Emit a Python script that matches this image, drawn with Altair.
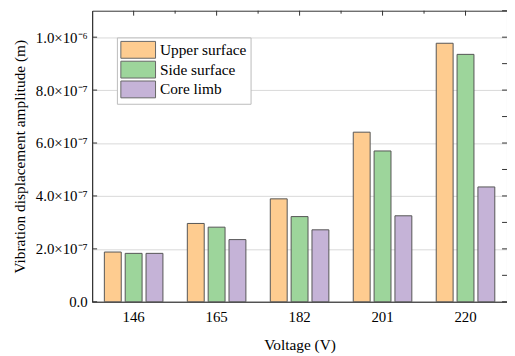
import altair as alt
import pandas as pd

voltages = ["146", "165", "182", "201", "220"]
series = ["Upper surface", "Side surface", "Core limb"]
upper = [1.88e-7, 2.96e-7, 3.89e-7, 6.41e-7, 9.77e-7]
side = [1.83e-7, 2.82e-7, 3.22e-7, 5.70e-7, 9.35e-7]
core = [1.83e-7, 2.35e-7, 2.72e-7, 3.25e-7, 4.34e-7]
colors = ["#FECC90", "#9DD59B", "#C5B3D7"]

y_tick_values = [0, 2e-7, 4e-7, 6e-7, 8e-7, 1e-6]
y_tick_labels = ["0.0", "2.0×10⁻⁷", "4.0×10⁻⁷", "6.0×10⁻⁷", "8.0×10⁻⁷", "1.0×10⁻⁶"]
y_minor_values = [i * 1e-7 for i in range(0, 12)]

rows = []
for s, vals in zip(series, [upper, side, core]):
    for v, val in zip(voltages, vals):
        rows.append({"Voltage": v, "Series": s, "Value": val})
df = pd.DataFrame(rows)

W, H = 419, 294
FONT = "Liberation Serif"

expr = ""
for v, l in zip(y_tick_values, y_tick_labels):
    expr += f"abs(datum.value-({v}))<1e-9 ? '{l}' : "
expr += "''"

yscale = alt.Scale(domain=[0, 1.1e-6], nice=False, zero=True)
xscale = alt.Scale(domain=voltages, paddingInner=0, paddingOuter=0)

xaxis = alt.Axis(title="Voltage (V)", labelAngle=0, ticks=False,
                 domainColor="#333333", labelPadding=8, titlePadding=13)
yaxis = alt.Axis(title="Vibration displacement amplitude (m)",
                 values=y_tick_values, labelExpr=expr, ticks=False,
                 grid=True, gridColor="#d9d9d9", domainColor="#333333",
                 labelPadding=5, titlePadding=8)

bars = alt.Chart(df).mark_bar(stroke="#555555", strokeWidth=1).encode(
    x=alt.X("Voltage:N", scale=xscale, sort=voltages, axis=xaxis),
    xOffset=alt.XOffset("Series:N", sort=series,
                        scale=alt.Scale(paddingInner=0.19, paddingOuter=0.585)),
    y=alt.Y("Value:Q", scale=yscale, axis=yaxis),
    color=alt.Color("Series:N", sort=series,
                    scale=alt.Scale(domain=series, range=colors),
                    legend=alt.Legend(title=None, orient="none", legendX=25, legendY=27,
                                      symbolType="M-2.06,-1H2.06V1H-2.06Z",
                                      symbolSize=289, symbolOffset=9,
                                      symbolStrokeColor="#666666",
                                      symbolStrokeWidth=1, labelFont=FONT,
                                      labelFontSize=15.5, labelColor="#000000",
                                      labelOffset=13, rowPadding=-2.5, padding=3.5,
                                      strokeColor="#bbbbbb", fillColor="white")),
)

minor_df = pd.DataFrame({"v": y_minor_values})
major_df = pd.DataFrame({"v": y_tick_values})
cat_df = pd.DataFrame({"Voltage": voltages})
bound_df = pd.DataFrame({"Voltage": voltages[1:]})

right_ticks = alt.Chart(minor_df).mark_rule(color="#333333").encode(
    y=alt.Y("v:Q", scale=yscale, axis=yaxis),
    x=alt.value(W - 5), x2=alt.value(W))
left_ticks = alt.Chart(major_df).mark_rule(color="#333333").encode(
    y=alt.Y("v:Q", scale=yscale, axis=yaxis),
    x=alt.value(0), x2=alt.value(5))
top_major = alt.Chart(cat_df).mark_rule(color="#333333").encode(
    x=alt.X("Voltage:N", scale=xscale, sort=voltages, bandPosition=0.5, axis=xaxis),
    y=alt.value(0), y2=alt.value(5))
top_minor = alt.Chart(bound_df).mark_rule(color="#333333").encode(
    x=alt.X("Voltage:N", scale=xscale, sort=voltages, bandPosition=0, axis=xaxis),
    y=alt.value(0), y2=alt.value(3))

chart = alt.layer(right_ticks, left_ticks, top_major, top_minor, bars).properties(
    width=W, height=H,
    padding={"left": 85, "top": 1, "right": 0, "bottom": 52},
    autosize="none",
).configure_view(stroke="#333333", strokeWidth=1).configure_axis(
    labelFont=FONT, titleFont=FONT, labelFontSize=15, titleFontSize=15.5,
    labelColor="#000000", titleColor="#000000", titleFontWeight="normal",
)

chart.save("out.html", embed_options={"renderer": "svg", "actions": False})
